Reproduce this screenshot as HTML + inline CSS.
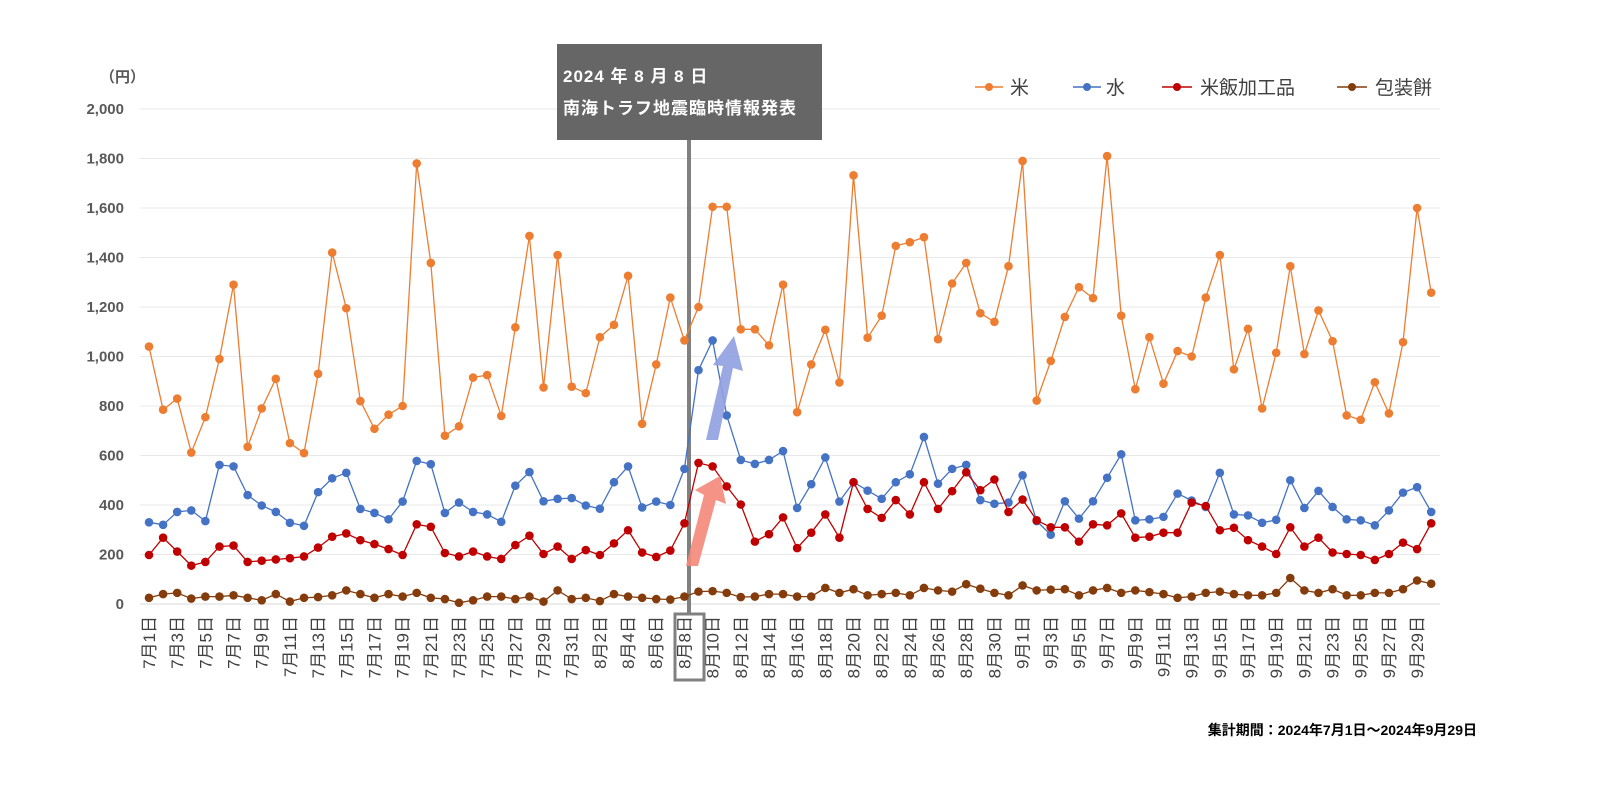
<!DOCTYPE html>
<html><head><meta charset="utf-8"><style>
html,body{margin:0;padding:0;background:#fff;overflow:hidden;width:1600px;height:800px;}
svg{display:block;}
svg text{font-family:"Liberation Sans","Noto Sans CJK JP",sans-serif;}
</style></head><body>
<svg id="c" width="1600" height="800" xmlns="http://www.w3.org/2000/svg">
<text x="100" y="82" font-size="15" font-weight="bold" fill="#595959">（円）</text>
<g id="grid"></g>
<g id="xl"></g>
<line x1="689" y1="140" x2="689" y2="614" stroke="#808080" stroke-width="4"/>
<rect x="675" y="614" width="29" height="66" fill="none" stroke="#808080" stroke-width="3"/>
<g id="series"></g>
<polygon points="686,566 698,566 716,500 726,504 720,476 695,490 704,495" fill="#f4877a" opacity="0.9"/>
<polygon points="706,440 718,440 733,368 743,371 734,336 713,365 723,366" fill="#8fa0e0" opacity="0.9"/>
<rect x="557" y="44" width="265" height="96" fill="#666"/>
<text x="563" y="82" font-size="17" font-weight="bold" fill="#fff" letter-spacing="1">2024 年 8 月 8 日</text>
<text x="563" y="114" font-size="17" font-weight="bold" fill="#fff" letter-spacing="1">南海トラフ地震臨時情報発表</text>
<g font-size="19" fill="#404040">
<line x1="975" y1="87" x2="1003" y2="87" stroke="#ed7d31" stroke-width="1.5"/><circle cx="989" cy="87" r="4" fill="#ed7d31"/><text x="1010" y="94">米</text>
<line x1="1073" y1="87" x2="1101" y2="87" stroke="#4472c4" stroke-width="1.5"/><circle cx="1087" cy="87" r="4" fill="#4472c4"/><text x="1106" y="94">水</text>
<line x1="1162" y1="87" x2="1192" y2="87" stroke="#c00000" stroke-width="1.5"/><circle cx="1177" cy="87" r="4" fill="#c00000"/><text x="1200" y="94">米飯加工品</text>
<line x1="1337" y1="87" x2="1367" y2="87" stroke="#843c0c" stroke-width="1.5"/><circle cx="1352" cy="87" r="4" fill="#843c0c"/><text x="1375" y="94">包装餅</text>
</g>
<text x="1477" y="735" font-size="14" font-weight="bold" fill="#000" text-anchor="end">集計期間：2024年7月1日～2024年9月29日</text>
</svg>
<script>
var NS="http://www.w3.org/2000/svg";
function el(t,a,p,txt){var e=document.createElementNS(NS,t);for(var k in a)e.setAttribute(k,a[k]);if(txt!=null)e.textContent=txt;p.appendChild(e);return e;}
var X0=149,DX=14.09,Y0=604,S=0.2475;
var g=document.getElementById('grid');
for(var v=0;v<=2000;v+=200){var y=Y0-v*S;
 el('line',{x1:140,x2:1440,y1:y,y2:y,stroke:v==0?'#d9d9d9':'#e8e8e8','stroke-width':1},g);
 el('text',{x:124,y:y+5,'font-size':15,'font-weight':'bold',fill:'#595959','text-anchor':'end'},g,v.toLocaleString('en-US'));}
var xl=document.getElementById('xl');
var days=[];for(var d=1;d<=31;d++)days.push('7月'+d+'日');for(d=1;d<=31;d++)days.push('8月'+d+'日');for(d=1;d<=30;d++)days.push('9月'+d+'日');
for(var i=0;i<days.length;i+=2){var x=X0+i*DX+6;
 el('text',{x:0,y:0,transform:'translate('+x+',616) rotate(-90)','font-size':17,fill:'#404040','text-anchor':'end'},xl,days[i]);}
var rice=[1040,785,830,612,755,990,1290,635,790,910,650,610,930,1420,1195,820,708,765,800,1780,1378,680,718,915,925,760,1118,1487,875,1410,878,
852,1078,1128,1326,728,968,1238,1065,1200,1605,1605,1110,1110,1045,1290,775,968,1108,895,1732,1076,1165,1447,1462,1482,1070,1295,1378,1175,1140,1365,
1790,822,982,1160,1280,1236,1810,1165,868,1078,890,1022,1000,1238,1410,948,1112,790,1015,1365,1010,1186,1062,762,744,896,770,1058,1600,1258];
var water=[330,320,372,378,335,562,556,440,398,372,328,316,452,508,530,384,368,342,414,578,565,368,410,372,362,332,478,533,415,425,428,
398,385,492,556,390,414,400,546,945,1065,762,582,566,582,618,388,484,592,414,492,458,425,492,524,675,486,546,562,420,405,410,
520,335,280,415,345,415,510,605,338,342,352,446,418,392,530,362,358,328,340,500,388,457,392,342,338,318,378,450,472,372];
var red=[198,268,212,155,170,232,236,170,175,180,185,192,228,272,285,258,242,222,198,322,312,206,192,212,192,182,238,276,202,232,182,
218,198,245,298,208,190,216,326,570,556,475,402,252,282,350,226,288,362,268,492,384,348,420,362,492,384,456,532,460,503,372,
422,338,310,310,252,322,318,366,268,272,288,288,410,396,298,308,258,232,202,310,232,268,208,202,198,178,202,248,222,326];
var mochi=[25,40,45,22,30,30,35,25,15,40,10,25,28,35,55,40,25,40,30,45,25,20,5,15,30,30,20,30,10,55,20,
25,12,40,30,25,20,18,30,50,52,45,28,30,40,40,30,30,65,45,60,35,40,45,35,65,55,50,80,62,45,35,
75,55,58,60,35,55,65,45,55,48,40,25,30,45,50,40,35,35,45,105,55,45,60,35,35,45,45,60,95,82];
var sg=document.getElementById('series');
[[rice,'#ed7d31'],[water,'#4472c4'],[red,'#c00000'],[mochi,'#843c0c']].forEach(function(s){
 var pts=s[0].map(function(v,i){return (X0+i*DX).toFixed(1)+','+(Y0-v*S).toFixed(1);});
 el('polyline',{points:pts.join(' '),fill:'none',stroke:s[1],'stroke-width':1.3},sg);
 s[0].forEach(function(v,i){el('circle',{cx:X0+i*DX,cy:Y0-v*S,r:4.3,fill:s[1]},sg);});
});
</script>
</body></html>
